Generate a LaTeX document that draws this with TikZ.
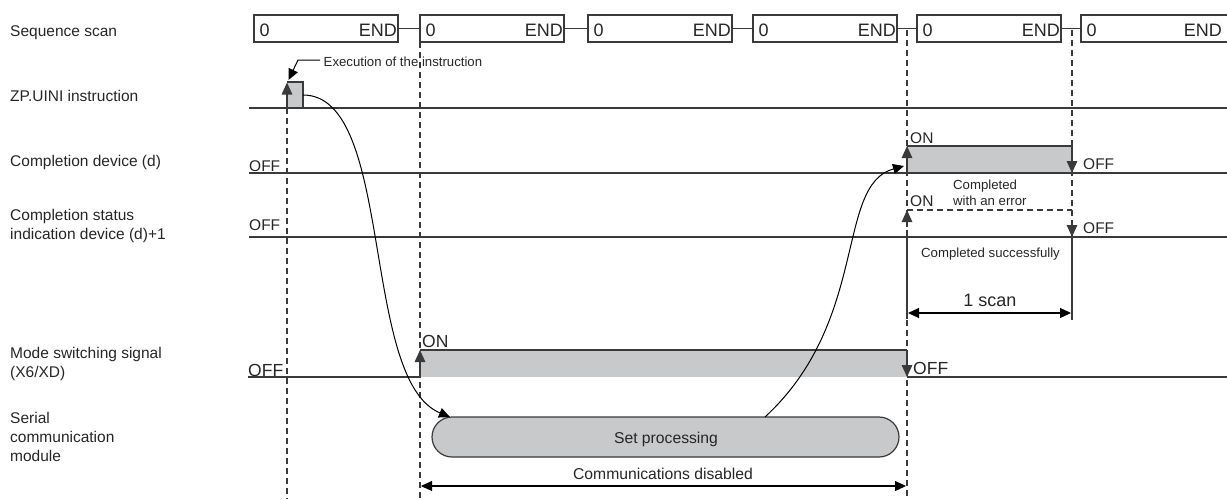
\documentclass[tikz,border=0pt]{standalone}
\usepackage{fontspec}
\setmainfont{Liberation Sans}
\usetikzlibrary{arrows.meta}
\definecolor{ln}{HTML}{3A3A3A}
\definecolor{fillg}{HTML}{C8C9CB}
\definecolor{txt}{HTML}{262626}
\begin{document}
\begin{tikzpicture}[x=1pt,y=-1pt,
  sig/.style={draw=ln, line width=1.4pt},
  dsh/.style={draw=ln, line width=1.1pt, dash pattern=on 6pt off 4pt},
  tip/.style={-{Triangle[length=12pt,width=10.5pt]}},
  ctip/.style={-{Triangle[length=11pt,width=10pt]}},
  dtip/.style={{Triangle[length=11pt,width=10pt]}-{Triangle[length=11pt,width=10pt]}},
  curv/.style={draw=black, line width=1pt},
  scanbox/.style={draw=ln, line width=1.3pt, minimum width=144pt, minimum height=27pt, inner sep=0pt},
  boxtxt/.style={inner sep=0pt, text=txt, font=\fontsize{18}{18}\selectfont},
  lbl/.style={anchor=base west, inner sep=0pt, align=left, text=txt, font=\fontsize{15.5}{19}\selectfont},
  sm/.style={anchor=base west, inner sep=0pt, text=txt, font=\fontsize{13.2}{16}\selectfont},
  st/.style={anchor=base west, inner sep=0pt, text=txt, font=\fontsize{15.5}{16}\selectfont},
  big/.style={anchor=base west, inner sep=0pt, text=txt, font=\fontsize{17.5}{18}\selectfont},
  mid/.style={anchor=base, inner sep=0pt, text=txt, font=\fontsize{15.7}{16}\selectfont}
]
\useasboundingbox (0,0) rectangle (1227,499);

% ---------- left labels ----------
\node[lbl] (lseq) at (10,36) {Sequence scan};
\node[lbl] (lzp) at (10,101) {ZP.UINI instruction};
\node[lbl] (lcd) at (10,166) {Completion device (d)};
\node[lbl] (lcs1) at (10,220) {Completion status};
\node[lbl] (lcs2) at (10,239) {indication device (d)+1};
\node[lbl] (lms1) at (10,358) {Mode switching signal};
\node[lbl] (lms2) at (10,377) {(X6/XD)};
\node[lbl] (lsc1) at (10,423) {Serial};
\node[lbl] (lsc2) at (10,442) {communication};
\node[lbl] (lsc3) at (10,461) {module};

% ---------- sequence scan ----------
\foreach \i/\xl in {1/254,2/420,3/588,4/753,5/917} {
  \node[scanbox] (s\i) at (\xl+72,28.5) {};
  \node[boxtxt, anchor=base west] (s\i z) at (\xl+5.5,36.5) {0};
  \node[boxtxt, anchor=base east] (s\i e) at (\xl+143,36.5) {END};
}
\coordinate (s6nw) at (1227,15);
\coordinate (s6w) at (1081,28.5);
\coordinate (s6se) at (1227,42);
\draw[ln, line width=1.3pt] (s6nw) -| (1081,42) -- (s6se);
\node[boxtxt, anchor=base west] (s6z) at (1086.5,36.5) {0};
\node[boxtxt, anchor=base east] (s6e) at (1222,36.5) {END};
\foreach \a/\b in {1/2,2/3,3/4,4/5} { \draw[ln, line width=1.2pt] (s\a.east) -- (s\b.west); }
\draw[ln, line width=1.2pt] (s5.east) -- (s6w);

% ---------- dashed verticals ----------
\draw[dsh] (287,108) -- (287,499);
\draw[dsh] (420,42) -- (420,499);
\draw[dsh] (907,30) -- (907,499);
\draw[dsh] (1072,30) -- (1072,237);

% ---------- ZP.UINI instruction ----------
\fill[fillg] (287,82) rectangle (303,108);
\draw[sig] (249,108) -- (1227,108);
\draw[sig] (287,82) -- (303,82) -- (303,108);
\draw[sig, tip] (287,108) -- (287,82.5);
\node[sm] (exe) at (323.5,66) {Execution of the instruction};
\coordinate (exa) at (320,60);
\coordinate (exb) at (298,60);
\coordinate (ext) at (288.5,80);
\draw[line width=1pt, ctip] (exa) -- (exb) -- (ext);

% ---------- Completion device ----------
\fill[fillg] (907,146) rectangle (1072,173);
\draw[sig] (249,173) -- (1227,173);
\draw[sig] (907,146) -- (1072,146);
\draw[sig, tip] (907,173) -- (907,146);
\draw[sig, tip] (1072,146) -- (1072,173);
\node[st] (cdoff) at (249,171) {OFF};
\node[st] (cdon) at (910,143) {ON};
\node[st] (cdoff2) at (1083,169) {OFF};

% ---------- Completion status ----------
\draw[sig] (249,237) -- (1227,237);
\draw[dsh] (907,210) -- (1072,210);
\draw[dsh, tip] (907,237) -- (907,210);
\draw[dsh, tip] (1072,210) -- (1072,237);
\node[st] (csoff) at (249,230) {OFF};
\node[st] (cson) at (910,206) {ON};
\node[st] (csoff2) at (1083,233) {OFF};
\node[sm] (cerr1) at (953,189) {Completed};
\node[sm] (cerr2) at (953,205) {with an error};
\node[sm] (cok) at (921,257) {Completed successfully};

% ---------- 1 scan ----------
\draw[ln, line width=1.2pt] (907,237) -- (907,319);
\draw[ln, line width=1.2pt] (1072,237) -- (1072,320);
\draw[black, line width=1.1pt, dtip] (908,313) -- (1071,313);
\node[anchor=base, inner sep=0pt, text=txt, font=\fontsize{18}{18}\selectfont] (scan) at (990,306) {1 scan};

% ---------- Mode switching signal ----------
\fill[fillg] (420,350) rectangle (907,377);
\draw[sig] (248,377) -- (420,377);
\draw[sig] (420,350) -- (907,350);
\draw[sig] (907,377) -- (1227,377);
\draw[sig, tip] (420,377) -- (420,350);
\draw[sig, tip] (907,350) -- (907,377);
\node[big] (msoff) at (248,376) {OFF};
\node[big] (mson) at (422,347) {ON};
\node[big] (msoff2) at (913,374) {OFF};

% ---------- Serial communication module ----------
\node[draw=ln, fill=fillg, line width=1.2pt, rounded corners=20pt, minimum width=467pt, minimum height=40pt, inner sep=0pt] (sp) at (665.5,437) {};
\node[mid] (sptxt) at (666,443) {Set processing};
\draw[black, line width=1.1pt, dtip] (421,486) -- (906,486);
\node[mid] (cd) at (663,479) {Communications disabled};

% ---------- curves ----------
\coordinate (c1s) at (303,95);
\coordinate (c1e) at (450,417);
\draw[curv, ctip] (c1s) .. controls (395,95) and (360,380) .. (c1e);
\coordinate (c2s) at (765,417);
\coordinate (c2e) at (904,166);
\draw[curv, ctip] (c2s) .. controls (870,320) and (835,185) .. (c2e);
\end{tikzpicture}
\end{document}
